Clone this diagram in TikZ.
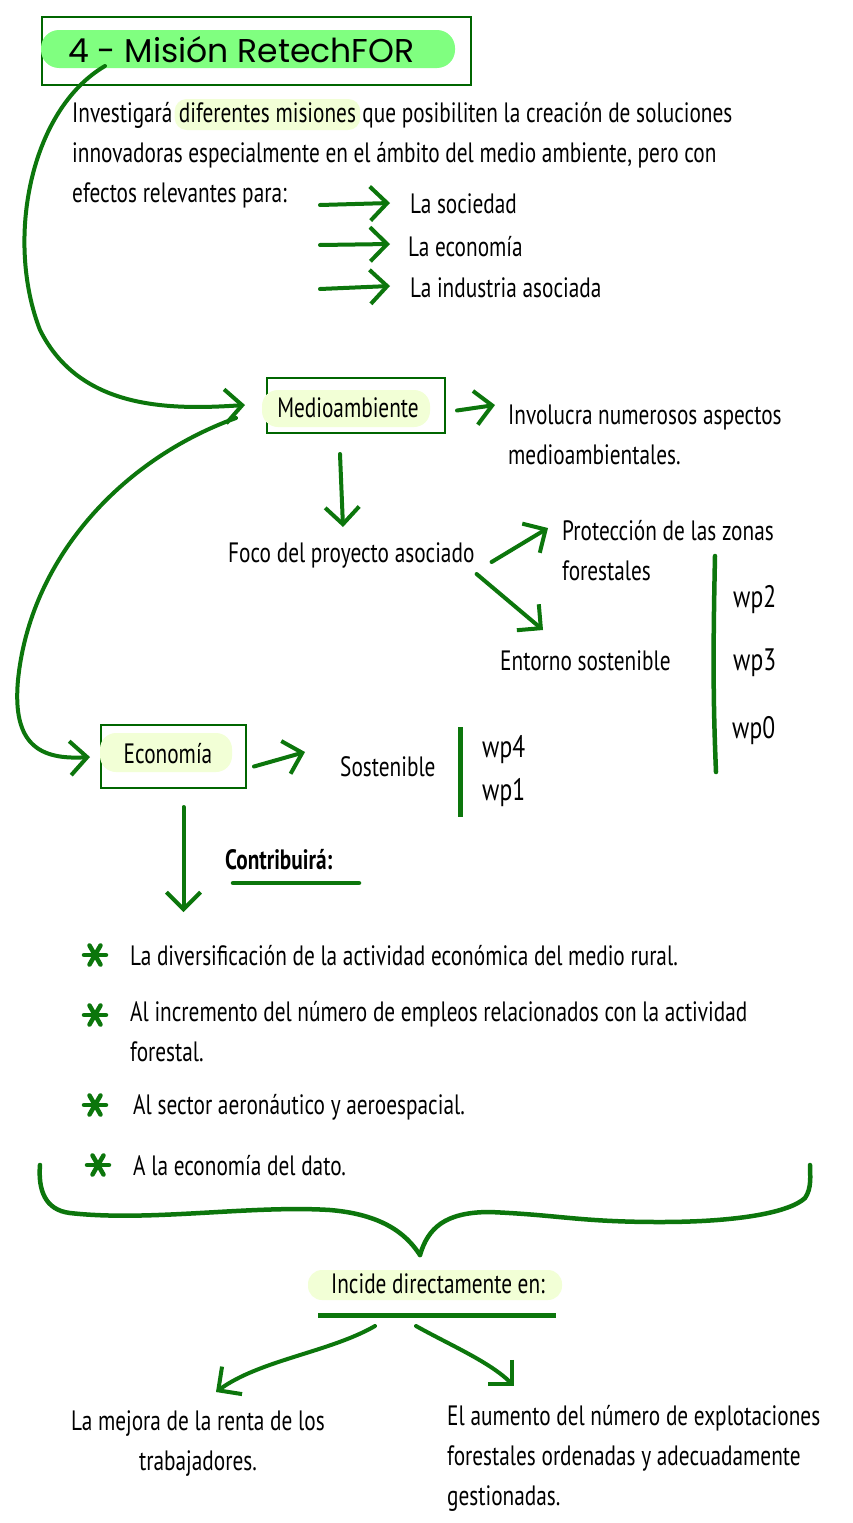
\documentclass[tikz,border=0pt]{standalone}
\usepackage{fontspec}
\setmainfont{PT Sans}[FakeStretch=0.76]
\newfontfamily\titlefont{Poppins}
\usetikzlibrary{arrows.meta,backgrounds}
\definecolor{dg}{RGB}{12,118,12}
\definecolor{boxg}{RGB}{0,102,0}
\definecolor{hl}{RGB}{242,255,214}
\definecolor{thl}{RGB}{128,255,128}
\tikzset{
  txt/.style={font=\fontsize{28}{30}\selectfont, inner sep=0pt, anchor=base west},
  wp/.style={font=\fontsize{31}{32}\selectfont, inner sep=0pt, anchor=base west},
  tip/.style={-{Straight Barb[length=17pt,width=34pt,line width=4pt]}},
  arr/.style={draw=dg, line width=4pt, line cap=round, tip},
  gline/.style={draw=dg, line width=4.5pt, line cap=round},
  frame/.style={draw=boxg, line width=2pt},
  ast/.pic={\foreach \a in {0,60,120}{\draw[dg, line width=4.5pt, line cap=round] (\a:11) -- (\a+180:11);}}
}
\begin{document}
\begin{tikzpicture}[x=1pt,y=-1pt]
\useasboundingbox (0,0) rectangle (852,1523);
\begin{scope}[on background layer]
\fill[white] (0,0) rectangle (852,1523);
\end{scope}
% title
\node[frame, minimum width=429pt, minimum height=68pt, anchor=north west, inner sep=0pt] (tbox) at (41,16) {};
\fill[thl, rounded corners=18pt] (41,30) rectangle (455,68);
\node[inner sep=0pt, anchor=base west, font=\titlefont\fontsize{33}{34}\selectfont] (title) at (68,62) {4 - Misión RetechFOR};
% paragraph
\node[txt] (p1a) at (72,122) {Investigará};
\node[txt] (p1b) at ([xshift=6pt]p1a.base east) {diferentes misiones};
\node[txt] (p1c) at ([xshift=6pt]p1b.base east) {que posibiliten la creación de soluciones};
\begin{scope}[on background layer]
\fill[hl, rounded corners=12pt] ([xshift=-4pt,yshift=-8pt]p1b.base west) rectangle ([xshift=4pt,yshift=23pt]p1b.base east);
\end{scope}
\node[txt] (p2) at (72,162) {innovadoras especialmente en el ámbito del medio ambiente, pero con};
\node[txt] (p3) at (72,202) {efectos relevantes para:};
\node[txt] (s1) at (410,213) {La sociedad};
\node[txt] (s2) at (408,256) {La economía};
\node[txt] (s3) at (410,297) {La industria asociada};
\coordinate (a1) at (320,205); \coordinate (a2) at (320,245); \coordinate (a3) at (320,289);
\draw[arr] (a1) -- ([xshift=-20pt,yshift=10pt]s1.base west);
\draw[arr] (a2) -- ([xshift=-18pt,yshift=12pt]s2.base west);
\draw[arr] (a3) -- ([xshift=-20pt,yshift=11pt]s3.base west);
% medioambiente
\node[frame, minimum width=178pt, minimum height=55pt, anchor=north west, inner sep=0pt] (mbox) at (266,377) {};
\fill[hl, rounded corners=16pt] (262,390) rectangle (430,427);
\node[txt, anchor=base] (medio) at (348,417) {Medioambiente};
\node[txt] (inv1) at (508,424) {Involucra numerosos aspectos};
\node[txt] (inv2) at (508,464) {medioambientales.};
\draw[arr] ([xshift=11pt,yshift=-5pt]mbox.east) -- ([xshift=-13pt,yshift=19pt]inv1.base west);
% big curve from title
\coordinate (c1) at (105,66);
\coordinate (m1) at (245,405);
\draw[arr] (c1) .. controls (30,110) and (5,240) .. (40,330) .. controls (80,410) and (170,410) .. (m1);
% curve to economy
\coordinate (m2) at (236,418);
\coordinate (e1) at (90,757);
\draw[arr] (m2) .. controls (120,460) and (30,560) .. (18,680) .. controls (12,745) and (40,760) .. (e1);
% foco
\node[txt] (foco) at (228,562) {Foco del proyecto asociado};
\draw[arr] ([xshift=-16pt,yshift=-20pt]mbox.south) -- ([xshift=-13pt,yshift=-93pt]mbox.south);
\node[txt] (prot1) at (562,540) {Protección de las zonas};
\node[txt] (prot2) at (562,580) {forestales};
\node[txt] (ent) at (500,670) {Entorno sostenible};
\draw[arr] ([xshift=17pt,yshift=0pt]foco.base east) -- ([xshift=-14pt,yshift=12pt]prot1.base west);
\draw[arr] ([xshift=2pt,yshift=-12pt]foco.base east) -- ([xshift=43pt,yshift=40pt]ent.base west);
\draw[gline] (715,556) .. controls (713,650) and (713,700) .. (716,772);
\node[wp] (wp2) at (733,607) {wp2};
\node[wp] (wp3) at (733,670) {wp3};
\node[wp] (wp0) at (732,738) {wp0};
% economia
\node[frame, minimum width=145pt, minimum height=63pt, anchor=north west, inner sep=0pt] (ebox) at (100,724) {};
\fill[hl, rounded corners=16pt] (100,733) rectangle (232,772);
\node[txt, anchor=base] (eco) at (168,763) {Economía};
\node[txt] (sost) at (340,776) {Sostenible};
\draw[arr] ([xshift=7pt,yshift=-10pt]ebox.east) -- ([xshift=-35pt,yshift=24pt]sost.base west);
\draw[draw=dg, line width=5pt] (460,727) -- (460,817);
\node[wp] (wp4) at (482,757) {wp4};
\node[wp] (wp1) at (482,800) {wp1};
% contribuira
\node[txt, font=\bfseries\fontsize{28}{30}\selectfont] (contrib) at (225,869) {Contribuirá:};
\draw[draw=dg, line width=4.5pt, line cap=round] (233,883) -- (359,883);
\draw[arr] ([xshift=10pt,yshift=-18pt]ebox.south) -- ([xshift=10pt,yshift=-123pt]ebox.south);
% bullets
\pic at (95,955) {ast}; \pic at (95,1015) {ast}; \pic at (95,1105) {ast}; \pic at (98,1165) {ast};
\node[txt] (b1) at (130,965) {La diversificación de la actividad económica del medio rural.};
\node[txt] (b2) at (130,1021) {Al incremento del número de empleos relacionados con la actividad};
\node[txt] (b2b) at (130,1061) {forestal.};
\node[txt] (b3) at (133,1114) {Al sector aeronáutico y aeroespacial.};
\node[txt] (b4) at (133,1175) {A la economía del dato.};
% brace
\coordinate (br) at (420,1255);
\draw[gline] (40,1165) .. controls (38,1190) and (45,1210) .. (70,1213) .. controls (150,1222) and (250,1205) .. (330,1210) .. controls (390,1215) and (410,1240) .. (br);
\draw[gline] (br) .. controls (428,1228) and (445,1212) .. (490,1212) .. controls (560,1215) and (580,1222) .. (660,1222) .. controls (740,1222) and (790,1212) .. (805,1198) .. controls (812,1188) and (810,1175) .. (810,1165);
% incide
\fill[hl, rounded corners=14pt] (308,1270) rectangle (562,1300);
\node[txt, anchor=base] (incide) at (438,1293) {Incide directamente en:};
\draw[draw=dg, line width=5pt] (318,1315) -- (556,1315);
\node[txt, anchor=base] (r1) at (198,1430) {La mejora de la renta de los};
\node[txt, anchor=base] (r1b) at (198,1470) {trabajadores.};
\node[txt] (r2) at (447,1425) {El aumento del número de explotaciones};
\node[txt] (r2b) at (447,1465) {forestales ordenadas y adecuadamente};
\node[txt] (r2c) at (447,1505) {gestionadas.};
\coordinate (i1) at (375,1326); \coordinate (i2) at (416,1326);
\draw[arr] (i1) .. controls (330,1352) and (260,1360) .. (216,1392);
\draw[arr] (i2) .. controls (450,1345) and (490,1362) .. (514,1386);
\end{tikzpicture}
\end{document}
